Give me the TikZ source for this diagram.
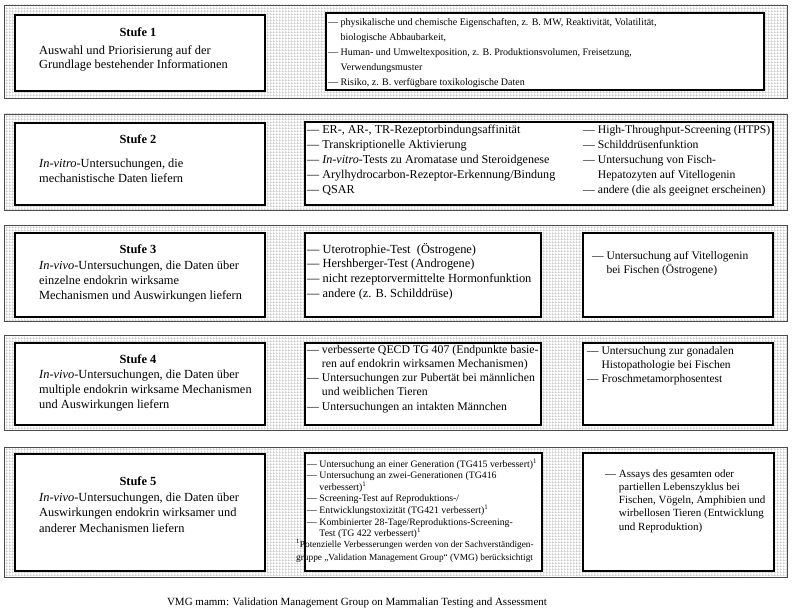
\documentclass[tikz,border=0pt]{standalone}
\usepackage{fontspec}
\setmainfont{Liberation Serif}
\usetikzlibrary{patterns,fit}
\pgfdeclarepatternformonly{dotgrid}{\pgfpointorigin}{\pgfqpoint{3pt}{3pt}}{\pgfqpoint{3pt}{3pt}}{%
  \pgfpathrectangle{\pgfpointorigin}{\pgfqpoint{3pt}{0.9pt}}%
  \pgfpathrectangle{\pgfpointorigin}{\pgfqpoint{0.9pt}{3pt}}%
  \pgfusepath{fill}}
\newcommand{\ind}{\hphantom{— }}
\newcommand{\sone}{\textsuperscript{1}}
\begin{document}
% multi-line text nodes are placed by the baseline of their LAST line
\begin{tikzpicture}[x=1pt,y=-1pt,
  panel/.style={draw=black!70, line width=0.8pt, preaction={fill=white}, pattern=dotgrid, pattern color=black!22, inner sep=0pt},
  box/.style={draw=black, line width=1.2pt, fill=white, inner sep=0pt},
  stufe/.style={anchor=base, inner sep=0pt, font=\fontsize{12.4}{15}\selectfont\bfseries},
  txt/.style={anchor=base west, inner sep=0pt, align=left},
]
\useasboundingbox (0,0) rectangle (792,615);
% outer panels
\node[panel, fit={(4,5)(787,98)}] (p1) {};
\node[panel, fit={(4,114)(787,210)}] (p2) {};
\node[panel, fit={(4,225)(787,321)}] (p3) {};
\node[panel, fit={(4,335)(787,430)}] (p4) {};
\node[panel, fit={(4,447)(787,577)}] (p5) {};
% inner boxes
\node[box, fit={(15,15)(265,91)}] (b1l) {};
\node[box, fit={(326,13)(764,90)}] (b1r) {};
\node[box, fit={(15,123)(265,205)}] (b2l) {};
\node[box, fit={(305,122)(773,205)}] (b2r) {};
\node[box, fit={(15,233)(265,317)}] (b3l) {};
\node[box, fit={(305,233)(541,317)}] (b3m) {};
\node[box, fit={(583,233)(773,317)}] (b3r) {};
\node[box, fit={(15,343)(265,425)}] (b4l) {};
\node[box, fit={(305,343)(541,425)}] (b4m) {};
\node[box, fit={(583,343)(773,425)}] (b4r) {};
\node[box, fit={(15,454)(265,571)}] (b5l) {};
\node[box, fit={(305,453)(542,571)}] (b5m) {};
\node[box, fit={(583,453)(774,571)}] (b5r) {};
% Stufe 1
\node[stufe] (h1) at (138,37) {Stufe 1};
\node[txt, font=\fontsize{12.4}{14}\selectfont] (t1l) at (39,69) {Auswahl und Priorisierung auf der\\Grundlage bestehender Informationen};
\node[txt, font=\fontsize{10}{14.8}\selectfont] (t1r) at (328,85.2) {— physikalische und chemische Eigenschaften, z. B. MW, Reaktivität, Volatilität,\\\ind biologische Abbaubarkeit,\\— Human- und Umweltexposition, z. B. Produktionsvolumen, Freisetzung,\\\ind Verwendungsmuster\\— Risiko, z. B. verfügbare toxikologische Daten};
% Stufe 2
\node[stufe] (h2) at (138,143) {Stufe 2};
\node[txt, font=\fontsize{12.4}{15}\selectfont] (t2l) at (39,182) {\textit{In-vitro}-Untersuchungen, die\\mechanistische Daten liefern};
\node[txt, font=\fontsize{12.1}{15}\selectfont] (t2a) at (307,193) {— ER-, AR-, TR-Rezeptorbindungsaffinität\\— Transkriptionelle Aktivierung\\— \textit{In-vitro}-Tests zu Aromatase und Steroidgenese\\— Arylhydrocarbon-Rezeptor-Erkennung/Bindung\\— QSAR};
\node[txt, font=\fontsize{11.7}{15}\selectfont] (t2b) at (583,193) {— High-Throughput-Screening (HTPS)\\— Schilddrüsenfunktion\\— Untersuchung von Fisch-\\\ind Hepatozyten auf Vitellogenin\\— andere (die als geeignet erscheinen)};
% Stufe 3
\node[stufe] (h3) at (138,253) {Stufe 3};
\node[txt, font=\fontsize{12.4}{15.3}\selectfont] (t3l) at (39,299.6) {\textit{In-vivo}-Untersuchungen, die Daten über\\einzelne endokrin wirksame\\Mechanismen und Auswirkungen liefern};
\node[txt, font=\fontsize{12.4}{14.7}\selectfont] (t3m) at (307,297.1) {— Uterotrophie-Test\ \ (Östrogene)\\— Hershberger-Test (Androgene)\\— nicht rezeptorvermittelte Hormonfunktion\\— andere (z. B. Schilddrüse)};
\node[txt, font=\fontsize{11.5}{14}\selectfont] (t3r) at (592,273) {— Untersuchung auf Vitellogenin\\\ind bei Fischen (Östrogene)};
% Stufe 4
\node[stufe] (h4) at (138,363) {Stufe 4};
\node[txt, font=\fontsize{12.4}{15}\selectfont] (t4l) at (39,408) {\textit{In-vivo}-Untersuchungen, die Daten über\\multiple endokrin wirksame Mechanismen\\und Auswirkungen liefern};
\node[txt, font=\fontsize{11.8}{14.3}\selectfont] (t4m) at (307,410.2) {— verbesserte QECD TG 407 (Endpunkte basie-\\\ind ren auf endokrin wirksamen Mechanismen)\\— Untersuchungen zur Pubertät bei männlichen\\\ind und weiblichen Tieren\\— Untersuchungen an intakten Männchen};
\node[txt, font=\fontsize{11.5}{14}\selectfont] (t4r) at (587,382) {— Untersuchung zur gonadalen\\\ind Histopathologie bei Fischen\\— Froschmetamorphosentest};
% Stufe 5
\node[stufe] (h5) at (138,485) {Stufe 5};
\node[txt, font=\fontsize{12.4}{15.5}\selectfont] (t5l) at (39,532) {\textit{In-vivo}-Untersuchungen, die Daten über\\Auswirkungen endokrin wirksamer und\\anderer Mechanismen liefern};
\node[txt, font=\fontsize{9.8}{11.6}\selectfont] (t5m) at (307,536.6) {— Untersuchung an einer Generation (TG415 verbessert)\sone\\— Untersuchung an zwei-Generationen (TG416\\\ind verbessert)\sone\\— Screening-Test auf Reproduktions-/\\— Entwicklungstoxizität (TG421 verbessert)\sone\\— Kombinierter 28-Tage/Reproduktions-Screening-\\\ind Test (TG 422 verbessert)\sone};
\node[txt, font=\fontsize{9.3}{13}\selectfont] (t5f) at (296,560) {\sone Potenzielle Verbesserungen werden von der Sachverständigen-\\gruppe „Validation Management Group“ (VMG) berücksichtigt};
\node[txt, font=\fontsize{11}{13.3}\selectfont] (t5r) at (605,530.2) {— Assays des gesamten oder\\\ind partiellen Lebenszyklus bei\\\ind Fischen, Vögeln, Amphibien und\\\ind wirbellosen Tieren (Entwicklung\\\ind und Reproduktion)};
% caption
\node[anchor=base, inner sep=0pt, font=\fontsize{11}{13}\selectfont] (cap) at (357,605) {VMG mamm: Validation Management Group on Mammalian Testing and Assessment};
\end{tikzpicture}
\end{document}
